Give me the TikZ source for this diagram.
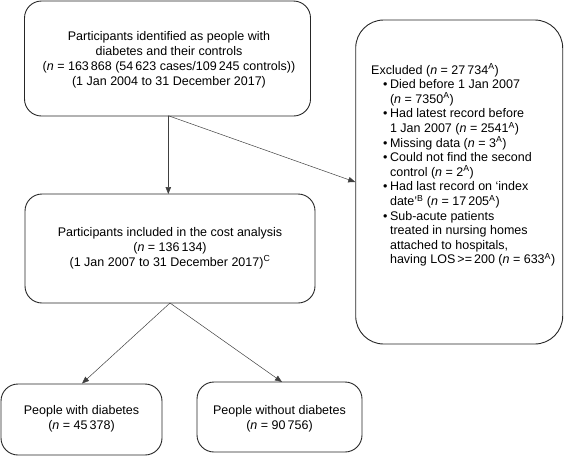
\documentclass[tikz,border=0pt]{standalone}
\usepackage{fontspec}
\setmainfont{Liberation Sans}
\usetikzlibrary{arrows.meta}
\newcommand{\nn}{\textit{n}}
\newcommand{\supA}{\textsuperscript{A}}
\newcommand{\bul}{\hspace*{12pt}\textbullet\hspace{2.5pt}}
\newcommand{\cont}{\hspace*{12pt}\phantom{\textbullet}\hspace{2.5pt}}
\begin{document}
\begin{tikzpicture}[x=1pt,y=-1pt,
  box/.style={draw=black!85,line width=0.9pt,rounded corners=17pt,inner sep=0pt},
  txt/.style={font=\fontsize{12.5}{15}\selectfont,align=center,inner sep=0pt},
  conn/.style={draw=black!75,line width=0.5pt,-{Triangle[length=7pt,width=5.5pt]}}]
\useasboundingbox (0,0) rectangle (564,456);
\node[box,minimum width=286pt,minimum height=115pt] (top) at (167.5,58.5) {};
\node[txt] (toptxt) at (169,59.5) {Participants identified as people with\\diabetes and their controls\\(\nn{} = 163\,868 (54\,623 cases/109\,245 controls))\\(1 Jan 2004 to 31 December 2017)};
\node[box,minimum width=290pt,minimum height=109pt] (mid) at (170,248.5) {};
\node[txt] (midtxt) at (170,248) {Participants included in the cost analysis\\(\nn{} = 136\,134)\\(1 Jan 2007 to 31 December 2017)\textsuperscript{C}};
\node[box,rounded corners=28pt,minimum width=207pt,minimum height=324pt] (excl) at (459.2,182) {};
\node[txt,align=left,anchor=north west,font=\fontsize{12.5}{14.6}\selectfont] (excltxt) at (371,63.5) {Excluded (\nn{} = 27\,734\supA)\\
\bul Died before 1 Jan 2007\\
\cont (\nn{} = 7350\supA)\\
\bul Had latest record before\\
\cont 1 Jan 2007 (\nn{} = 2541\supA)\\
\bul Missing data (\nn{} = 3\supA)\\
\bul Could not find the second\\
\cont control (\nn{} = 2\supA)\\
\bul Had last record on ‘index\\
\cont date’\textsuperscript{B} (\nn{} = 17\,205\supA)\\
\bul Sub-acute patients\\
\cont treated in nursing homes\\
\cont attached to hospitals,\\
\cont having LOS\,>=\,200 (\nn{} = 633\supA)};
\node[box,minimum width=161pt,minimum height=71pt] (pwd) at (81.5,419.5) {};
\node[txt] (pwdtxt) at (81.5,419) {People with diabetes\\(\nn{} = 45\,378)};
\node[box,minimum width=165pt,minimum height=70pt] (pwo) at (279.5,417) {};
\node[txt] (pwotxt) at (279.5,419) {People without diabetes\\(\nn{} = 90\,756)};
\coordinate (topout) at (168.3,115.7);
\coordinate (midin) at (168.3,194);
\coordinate (midout) at (170,303);
\coordinate (pwdin) at (82,383.5);
\coordinate (pwoin) at (282,382);
\draw[conn] (topout) -- (midin);
\draw[conn] (topout) -- (excl.west);
\draw[conn] (midout) -- (pwdin);
\draw[conn] (midout) -- (pwoin);
\end{tikzpicture}
\end{document}
